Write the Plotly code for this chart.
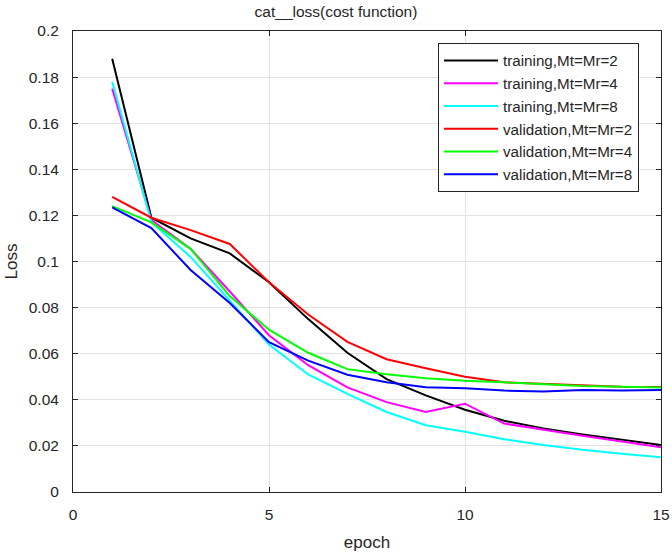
import plotly.graph_objects as go

epochs = list(range(1, 16))

train_2 = [0.188, 0.119, 0.110, 0.1035, 0.091, 0.075, 0.0604, 0.049, 0.0419, 0.0357, 0.0309, 0.0276, 0.025, 0.0226, 0.0204]
train_4 = [0.175, 0.118, 0.1055, 0.087, 0.068, 0.055, 0.0454, 0.039, 0.0347, 0.0383, 0.0297, 0.0269, 0.0244, 0.0219, 0.0194]
train_8 = [0.178, 0.117, 0.102, 0.083, 0.064, 0.051, 0.0426, 0.0347, 0.029, 0.0261, 0.0229, 0.0204, 0.0183, 0.0166, 0.0151]
val_2 = [0.128, 0.119, 0.1136, 0.1076, 0.091, 0.077, 0.0651, 0.0576, 0.0537, 0.050, 0.0476, 0.0469, 0.0462, 0.0457, 0.0455]
val_4 = [0.124, 0.117, 0.1055, 0.085, 0.0704, 0.0604, 0.0533, 0.0511, 0.0494, 0.0483, 0.0476, 0.0469, 0.046, 0.0457, 0.0453]
val_8 = [0.1235, 0.1145, 0.0963, 0.082, 0.065, 0.057, 0.0509, 0.0476, 0.0454, 0.045, 0.044, 0.0436, 0.0443, 0.044, 0.0443]

names = ["training,Mt=Mr=2", "training,Mt=Mr=4", "training,Mt=Mr=8",
         "validation,Mt=Mr=2", "validation,Mt=Mr=4", "validation,Mt=Mr=8"]
colors = ["#000000", "#FF00FF", "#00FFFF", "#FF0000", "#00FF00", "#0000FF"]
series = [train_2, train_4, train_8, val_2, val_4, val_8]

x_ticks = [0, 5, 10, 15]
y_ticks = [0, 0.02, 0.04, 0.06, 0.08, 0.1, 0.12, 0.14, 0.16, 0.18, 0.2]

fig = go.Figure()
for name, col, ys in zip(names, colors, series):
    fig.add_trace(go.Scatter(x=epochs, y=ys, mode="lines", name=name,
                             line=dict(color=col, width=2)))

axis_common = dict(showline=True, linecolor="#262626", linewidth=1, mirror="ticks",
                   ticks="inside", ticklen=5, tickcolor="#262626",
                   showgrid=True, gridcolor="#e3e3e3", gridwidth=1, zeroline=False,
                   automargin=False,
                   tickfont=dict(size=15.5, color="#262626"))

fig.update_layout(
    width=672, height=553,
    margin=dict(l=73, r=11, t=31, b=61),
    paper_bgcolor="white", plot_bgcolor="white",
    font=dict(family="Liberation Sans, Arial, sans-serif", color="#262626"),
    title=dict(text="cat__loss(cost function)", x=0.5, xanchor="center",
               y=1 - 12 / 553, yanchor="middle", font=dict(size=15.5, color="#262626")),
    xaxis=dict(range=[0, 15], tickvals=x_ticks, ticklabelstandoff=8,
               title=dict(text="epoch", font=dict(size=17), standoff=14), **axis_common),
    yaxis=dict(range=[0, 0.2], tickvals=y_ticks, ticklabelstandoff=10,
               title=dict(text="Loss", font=dict(size=17), standoff=6), **axis_common),
    legend=dict(x=(438 - 73) / 588, y=(492 - 43) / 461, xanchor="left", yanchor="top",
                bordercolor="#262626", borderwidth=1, bgcolor="white",
                font=dict(size=15.2, color="#262626"), itemwidth=54,
                tracegroupgap=0),
    showlegend=True,
)

fig.write_html("out.html")
